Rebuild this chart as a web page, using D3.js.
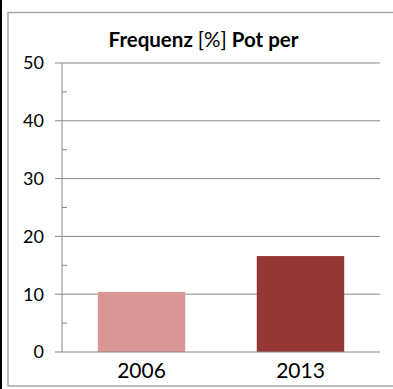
<!DOCTYPE html>
<html><head><meta charset="utf-8">
<script src="https://cdn.jsdelivr.net/npm/d3@7"></script>
<style>html,body{margin:0;padding:0;background:#fff;}svg{display:block;}</style>
</head><body>
<script>
const categories = ["2006", "2013"];
const values = [10.4, 16.6];
const barColors = ["#D99694", "#953735"];
const yTicks = [0, 10, 20, 30, 40, 50];
const yMinorTicks = [5, 15, 25, 35, 45];
const titleParts = [{t: "Frequenz ", b: true}, {t: "[%]", b: false}, {t: " Pot per", b: true}];

(function () {
const W = 393, H = 389;
const font = "Lato, 'Open Sans', sans-serif";
const svg = d3.select("body").append("svg").attr("width", W).attr("height", H);

// outer frame
svg.append("rect").attr("x", 0).attr("y", 0).attr("width", 2).attr("height", H).attr("fill", "#000");
svg.append("rect").attr("x", 8).attr("y", 12.5).attr("width", 430).attr("height", 373.5)
  .attr("fill", "#fff").attr("stroke", "#a6a6a6").attr("stroke-width", 1.5);

const pLeft = 62, pRight = 380, pTop = 63, pBottom = 352;
const x = d3.scaleBand().domain(categories).range([pLeft, pRight]).paddingInner(0.45).paddingOuter(0.225);
const y = d3.scaleLinear().domain([0, 50]).range([pBottom, pTop]);

// gridlines
svg.append("g").selectAll("line").data(yTicks.filter(d => d > 0)).join("line")
  .attr("x1", 55).attr("x2", pRight).attr("y1", d => y(d)).attr("y2", d => y(d))
  .attr("stroke", "#878787").attr("stroke-width", 1);

// bars
svg.append("g").selectAll("rect").data(values).join("rect")
  .attr("x", (d, i) => x(categories[i])).attr("width", x.bandwidth())
  .attr("y", d => y(d)).attr("height", d => pBottom - y(d))
  .attr("fill", (d, i) => barColors[i]);

// y axis line + ticks
svg.append("line").attr("x1", pLeft).attr("x2", pLeft).attr("y1", pTop).attr("y2", pBottom)
  .attr("stroke", "#878787").attr("stroke-width", 1);
svg.append("g").selectAll("line").data(yMinorTicks).join("line")
  .attr("x1", pLeft).attr("x2", pLeft + 5).attr("y1", d => y(d)).attr("y2", d => y(d))
  .attr("stroke", "#878787").attr("stroke-width", 1);
// x axis line
svg.append("line").attr("x1", 55).attr("x2", pRight).attr("y1", pBottom).attr("y2", pBottom)
  .attr("stroke", "#878787").attr("stroke-width", 1);

// y labels
svg.append("g").selectAll("text").data(yTicks).join("text")
  .attr("x", 44).attr("y", d => y(d)).attr("dy", "0.36em")
  .attr("text-anchor", "end").attr("font-family", font).attr("font-size", 18).attr("fill", "#000")
  .text(d => d);

// x labels
svg.append("g").selectAll("text").data(categories).join("text")
  .attr("x", d => x(d) + x.bandwidth() / 2).attr("y", 378)
  .attr("text-anchor", "middle").attr("font-family", font).attr("font-size", 21).attr("fill", "#000")
  .text(d => d);

// title
const title = svg.append("text").attr("x", 203.5).attr("y", 47).attr("text-anchor", "middle")
  .attr("font-family", font).attr("font-size", 20.5).attr("fill", "#000");
title.selectAll("tspan").data(titleParts).join("tspan")
  .attr("font-weight", d => d.b ? "bold" : "normal").text(d => d.t);
})();
</script>
</body></html>
